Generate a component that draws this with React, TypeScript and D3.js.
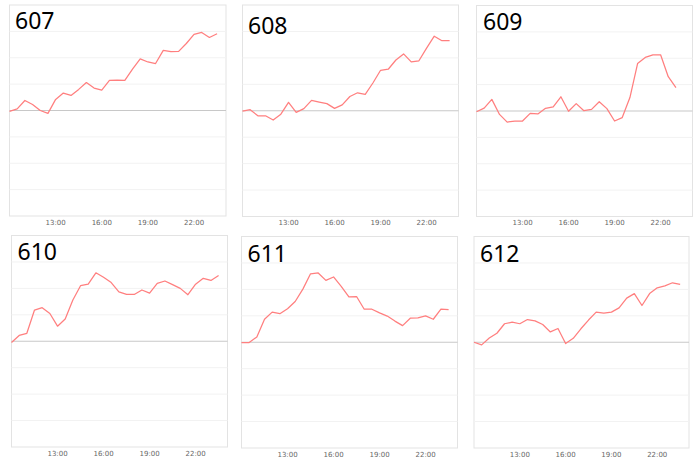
import React from "react";
import * as d3 from "d3";

// ---- data ----
const TIMES = [
  "10:00","10:30","11:00","11:30","12:00","12:30","13:00","13:30","14:00","14:30",
  "15:00","15:30","16:00","16:30","17:00","17:30","18:00","18:30","19:00","19:30",
  "20:00","20:30","21:00","21:30","22:00","22:30","23:00","23:30",
];
const PANEL_NAMES = ["607", "608", "609", "610", "611", "612"];
const S607 = [-0.03,0.06,0.38,0.23,0,-0.11,0.42,0.66,0.57,0.8,1.06,0.85,0.77,1.14,1.15,1.14,1.57,1.96,1.84,1.78,2.28,2.23,2.24,2.54,2.89,2.96,2.77,2.91];
const S608 = [-0.01,0.04,-0.19,-0.19,-0.35,-0.13,0.32,-0.06,0.08,0.39,0.33,0.27,0.09,0.22,0.54,0.68,0.62,1.05,1.53,1.57,1.92,2.15,1.85,1.89,2.37,2.82,2.65,2.65];
const S609 = [-0.03,0.11,0.44,-0.13,-0.42,-0.38,-0.38,-0.09,-0.11,0.1,0.16,0.54,-0.01,0.28,0.01,0.06,0.35,0.09,-0.38,-0.25,0.51,1.8,2.03,2.13,2.13,1.3,0.89];
const S610 = [-0.05,0.22,0.3,1.18,1.27,1.05,0.57,0.84,1.56,2.1,2.16,2.59,2.42,2.22,1.87,1.77,1.77,1.94,1.82,2.19,2.28,2.14,2.0,1.76,2.16,2.38,2.3,2.49];
const S611 = [-0.01,-0.01,0.2,0.87,1.14,1.08,1.27,1.54,2.01,2.59,2.62,2.34,2.47,2.11,1.72,1.73,1.25,1.25,1.11,0.99,0.8,0.63,0.91,0.92,1.0,0.87,1.25,1.23];
const S612 = [0,-0.1,0.16,0.34,0.7,0.76,0.7,0.86,0.81,0.67,0.39,0.52,-0.05,0.15,0.51,0.84,1.14,1.1,1.14,1.3,1.67,1.84,1.39,1.84,2.06,2.13,2.25,2.19];
const SERIES = [S607, S608, S609, S610, S611, S612];
const X_TICKS = ["13:00", "16:00", "19:00", "22:00"];
const Y_TICKS = [-4, -3, -2, -1, 0, 1, 2, 3, 4];

// ---- layout ----
const LAYOUT = [
  { x: 9.5, y: 5, w: 216.5, h: 211, tx: 5.5, ty: 23.5 },
  { x: 242.5, y: 5, w: 216, h: 211.5, tx: 5.5, ty: 28.5 },
  { x: 476.5, y: 5.5, w: 216, h: 211, tx: 6.5, ty: 24 },
  { x: 11.5, y: 235.5, w: 216, h: 211.5, tx: 6, ty: 24 },
  { x: 241.5, y: 236.5, w: 216, h: 211.5, tx: 6, ty: 25.5 },
  { x: 474, y: 236.5, w: 215, h: 211.5, tx: 6, ty: 25.5 },
];

const toHours = (t: string) => {
  const [h, m] = t.split(":").map(Number);
  return h + m / 60;
};

function Panel({ idx }: { idx: number }) {
  const L = LAYOUT[idx];
  const data = SERIES[idx];
  const x = d3.scaleLinear().domain([10, 24.08]).range([0, L.w]);
  const y = d3.scaleLinear().domain([-4, 4]).range([L.h, 0]);
  const line = d3
    .line<number>()
    .x((_, i) => x(toHours(TIMES[i])))
    .y((d) => y(d));
  return (
    <g transform={`translate(${L.x},${L.y})`}>
      <rect x={0} y={0} width={L.w} height={L.h} fill="#fff" stroke="#e3e3e3" strokeWidth={1} />
      {Y_TICKS.filter((t) => t !== 0 && t !== 4 && t !== -4).map((t) => (
        <line key={t} x1={0} x2={L.w} y1={y(t)} y2={y(t)} stroke="#f2f2f2" strokeWidth={1} />
      ))}
      <line x1={0} x2={L.w} y1={y(0)} y2={y(0)} stroke="#c8c8c8" strokeWidth={1.2} />
      <path d={line(data) || ""} fill="none" stroke="#ff7f7f" strokeWidth={1.25} strokeLinejoin="round" />
      {X_TICKS.map((t) => (
        <text
          key={t}
          x={x(toHours(t))}
          y={L.h + 8.5}
          textAnchor="middle"
          fontSize={7}
          fill="#666"
          fontFamily="'DejaVu Sans', sans-serif"
        >
          {t}
        </text>
      ))}
      <text x={L.tx} y={L.ty} fontSize={23} fill="#000" fontFamily="'Noto Sans', sans-serif">
        {PANEL_NAMES[idx]}
      </text>
    </g>
  );
}

export default function App() {
  return (
    <svg
      width={700}
      height={461}
      style={{ position: "absolute", left: 0, top: 0, background: "#fff" }}
    >
      <rect width={700} height={461} fill="#fff" />
      {PANEL_NAMES.map((_, i) => (
        <Panel key={i} idx={i} />
      ))}
    </svg>
  );
}
